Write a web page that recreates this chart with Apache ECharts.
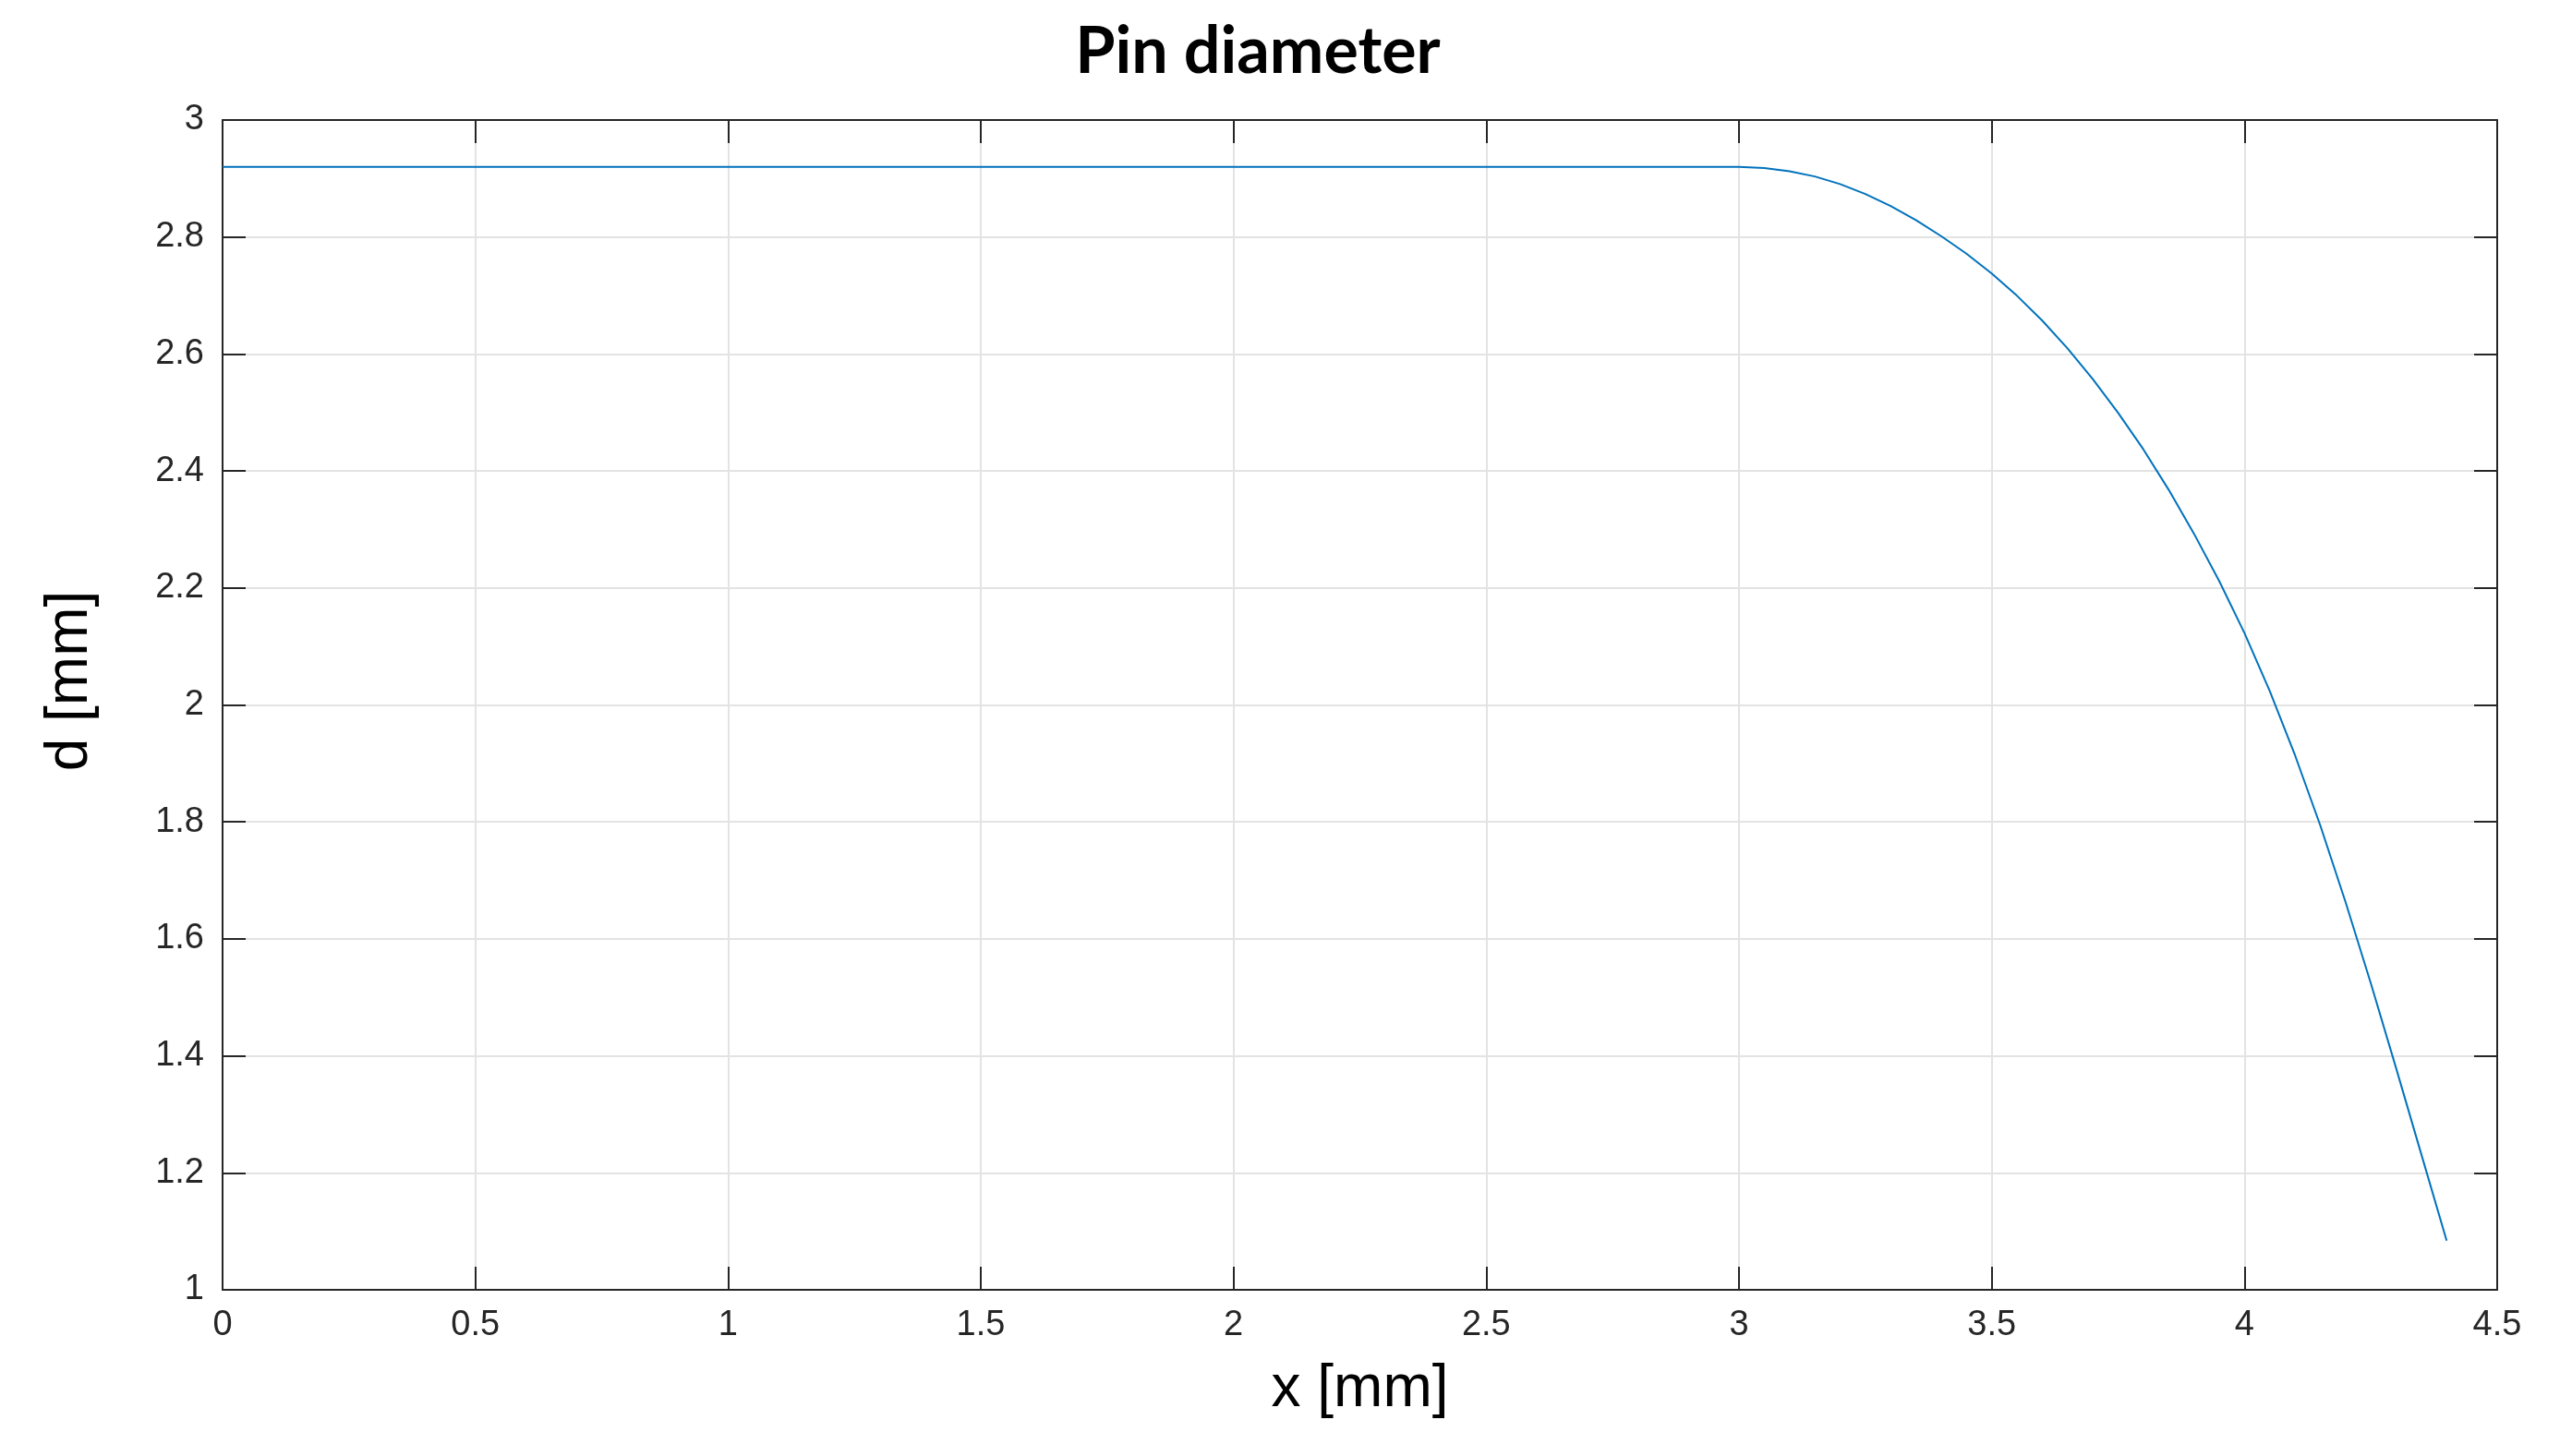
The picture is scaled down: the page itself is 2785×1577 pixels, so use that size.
<!DOCTYPE html>
<html>
<head>
<meta charset="utf-8">
<script src="https://cdn.jsdelivr.net/npm/echarts@6/dist/echarts.min.js"></script>
<style>
  html, body { margin: 0; padding: 0; background: #ffffff; }
  #chart { width: 2785px; height: 1577px; }
</style>
</head>
<body>
<div id="chart"></div>
<script>
// ---- data ----
var titleText = 'Pin diameter';
var xName = 'x [mm]';
var yName = 'd [mm]';

var xValues = [0, 0.5, 1, 1.5, 2, 2.5, 3.0, 3.05, 3.10, 3.15, 3.20, 3.25, 3.30, 3.35, 3.40,
  3.45, 3.50, 3.55, 3.60, 3.65, 3.70, 3.75, 3.80, 3.85, 3.90, 3.95, 4.00,
  4.05, 4.10, 4.15, 4.20, 4.25, 4.30, 4.35, 4.40];
var dValues = [2.92, 2.92, 2.92, 2.92, 2.92, 2.92, 2.920, 2.918, 2.9125, 2.9035, 2.8905, 2.8735, 2.853, 2.829, 2.8015,
  2.7715, 2.7375, 2.6995, 2.657, 2.6095, 2.557, 2.4995, 2.437, 2.368, 2.293, 2.212, 2.123,
  2.024, 1.914, 1.794, 1.663, 1.524, 1.379, 1.2315, 1.084];

var xMin = 0, xMax = 4.5, xStep = 0.5;
var yMin = 1, yMax = 3, yStep = 0.2;

var seriesData = xValues.map(function (x, i) { return [x, dValues[i]]; });

var axisColor = '#262626';
var gridColor = '#e3e3e3';
var tickFont = 'Liberation Sans, Arial, sans-serif';

var chart = echarts.init(document.getElementById('chart'), null, { renderer: 'canvas' });

function boxAxis(base) {
  return Object.assign({
    type: 'value',
    axisLine: { show: true, onZero: false, lineStyle: { color: axisColor, width: 2 } },
    axisTick: { show: true, inside: true, length: 25, lineStyle: { color: axisColor, width: 2 } },
    axisLabel: { show: false },
    splitLine: { show: false }
  }, base);
}

chart.setOption({
  animation: false,
  backgroundColor: '#ffffff',
  title: {
    text: titleText,
    left: 1362,
    top: 21,
    textAlign: 'center',
    padding: 0,
    textStyle: { fontFamily: 'Lato, sans-serif', fontWeight: 'bold', fontSize: 70, color: '#000000' }
  },
  grid: { left: 241, top: 130, right: 81, bottom: 180, containLabel: false },
  xAxis: [
    boxAxis({
      position: 'bottom', min: xMin, max: xMax, interval: xStep,
      name: xName, nameLocation: 'middle', nameGap: 76,
      nameTextStyle: { fontFamily: tickFont, fontSize: 64, color: '#000000' },
      axisLabel: { show: true, margin: 20, fontFamily: tickFont, fontSize: 38, color: axisColor },
      splitLine: { show: true, lineStyle: { color: gridColor, width: 2 } }
    }),
    boxAxis({ position: 'top', min: xMin, max: xMax, interval: xStep })
  ],
  yAxis: [
    boxAxis({
      position: 'left', min: yMin, max: yMax, interval: yStep,
      name: yName, nameLocation: 'middle', nameGap: 133,
      nameTextStyle: { fontFamily: tickFont, fontSize: 64, color: '#000000', padding: [0, 0, 0, 52] },
      axisLabel: { show: true, margin: 20, fontFamily: tickFont, fontSize: 38, color: axisColor },
      splitLine: { show: true, lineStyle: { color: gridColor, width: 2 } }
    }),
    boxAxis({ position: 'right', min: yMin, max: yMax, interval: yStep })
  ],
  series: [{
    type: 'line',
    xAxisIndex: 0,
    yAxisIndex: 0,
    data: seriesData,
    showSymbol: false,
    symbol: 'none',
    smooth: false,
    lineStyle: { color: '#0072BD', width: 2 },
    z: 5
  }]
});
</script>
</body>
</html>
